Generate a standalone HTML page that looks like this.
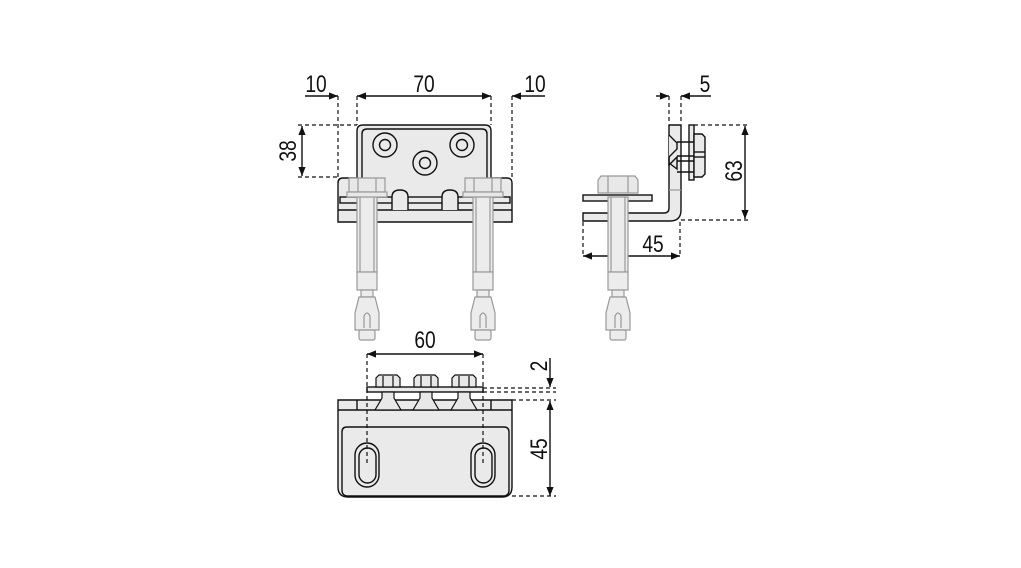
<!DOCTYPE html>
<html><head><meta charset="utf-8"><style>
html,body{margin:0;padding:0;background:#fff}
svg{display:block}
text{font-family:"Liberation Sans",sans-serif;font-size:24px;fill:#111}
</style></head><body>
<svg width="1021" height="568" viewBox="0 0 1021 568" xmlns="http://www.w3.org/2000/svg">
<defs>
<marker id="a" viewBox="0 0 10 10" refX="10" refY="5" markerWidth="9" markerHeight="9" markerUnits="userSpaceOnUse" orient="auto-start-reverse"><path d="M0,1 L10,5 L0,9z" fill="#111"/></marker>
<g id="anchor" stroke="#999" stroke-width="1.2" fill="#ececec">
 <rect x="-10" y="19" width="20" height="75"/>
 <line x1="-7" y1="19" x2="-7" y2="94"/><line x1="7" y1="19" x2="7" y2="94"/>
 <rect x="-10" y="94" width="20" height="18"/>
 <path d="M-6,112 h12 v7 h-12z"/>
 <path d="M-8,119 h16 l4,16 v17 h-24 v-17z"/>
 <path d="M-3,150 v-12 q3,-6 6,0 v12" fill="none"/>
 <rect x="-8" y="152" width="16" height="10" rx="2"/>
</g>
</defs>

<!-- ===== FRONT VIEW ===== -->
<g stroke="#111" stroke-width="1.4" fill="none">
 <line x1="305" y1="96" x2="338" y2="96" marker-end="url(#a)"/>
 <line x1="357" y1="96" x2="491" y2="96" marker-start="url(#a)" marker-end="url(#a)"/>
 <line x1="545" y1="96" x2="512" y2="96" marker-end="url(#a)"/>
 <line x1="302" y1="126" x2="302" y2="176" marker-start="url(#a)" marker-end="url(#a)"/>
</g>
<g stroke="#111" stroke-width="1.2" stroke-dasharray="4,3" fill="none">
 <line x1="338" y1="96" x2="338" y2="178"/><line x1="357" y1="96" x2="357" y2="125"/>
 <line x1="491" y1="96" x2="491" y2="125"/><line x1="512" y1="96" x2="512" y2="178"/>
 <line x1="298" y1="125" x2="357" y2="125"/><line x1="298" y1="177" x2="338" y2="177"/>
</g>
<text transform="translate(316,92) scale(0.8,1)" text-anchor="middle">10</text>
<text transform="translate(424,92) scale(0.8,1)" text-anchor="middle">70</text>
<text transform="translate(535,92) scale(0.8,1)" text-anchor="middle">10</text>
<text transform="translate(296,151) rotate(-90) scale(0.8,1)" text-anchor="middle">38</text>

<g stroke="#111" stroke-width="1.4" fill="#eaeaea">
 <path d="M338,222 V183 q0,-5 5,-5 H357 V131 q0,-6 6,-6 H485 q6,0 6,6 V178 H507 q5,0 5,5 V222 Z"/>
 <path d="M362,181 V134 q0,-5 5,-5 H482 q5,0 5,5 V181" fill="#eaeaea"/>
 <rect x="340" y="197" width="170" height="6"/>
 <line x1="338" y1="210" x2="512" y2="210"/>
 <path d="M392,210 V197 q0,-7 8,-7 q8,0 8,7 V210" fill="#eaeaea"/>
 <path d="M442,210 V197 q0,-7 8,-7 q8,0 8,7 V210" fill="#eaeaea"/>
 <circle cx="385" cy="145" r="12"/><circle cx="385" cy="145" r="5.5"/>
 <circle cx="462" cy="145" r="12"/><circle cx="462" cy="145" r="5.5"/>
 <circle cx="425" cy="163" r="12"/><circle cx="425" cy="163" r="5.5"/>
</g>
<use href="#anchor" x="367" y="178"/>
<use href="#anchor" x="483" y="178"/>
<g stroke="#999" stroke-width="1.2" fill="#e8e8e8">
 <path d="M349,178 h36 v14 h-36z"/><line x1="358" y1="178" x2="358" y2="192"/><line x1="376" y1="178" x2="376" y2="192"/>
 <rect x="347" y="192" width="40" height="5"/>
 <path d="M465,178 h36 v14 h-36z"/><line x1="474" y1="178" x2="474" y2="192"/><line x1="492" y1="178" x2="492" y2="192"/>
 <rect x="463" y="192" width="40" height="5"/>
</g>

<!-- ===== BOTTOM VIEW ===== -->
<g stroke="#111" stroke-width="1.4" fill="none">
 <line x1="367" y1="354" x2="483" y2="354" marker-start="url(#a)" marker-end="url(#a)"/>
 <line x1="550" y1="358" x2="550" y2="387" marker-end="url(#a)"/>
 <line x1="550" y1="401" x2="550" y2="496" marker-start="url(#a)" marker-end="url(#a)"/>
</g>
<text transform="translate(425,348) scale(0.8,1)" text-anchor="middle">60</text>
<text transform="translate(547,366) rotate(-90) scale(0.8,1)" text-anchor="middle">2</text>
<text transform="translate(547,449) rotate(-90) scale(0.8,1)" text-anchor="middle">45</text>
<g stroke="#111" stroke-width="1.4" fill="#eaeaea">
 <path d="M338,400 H512 V487 q0,10 -10,10 H348 q-10,0 -10,-10 Z"/>
 <line x1="338" y1="410" x2="512" y2="410"/>
 <line x1="357" y1="400" x2="357" y2="410"/><line x1="491" y1="400" x2="491" y2="410"/>
 <path d="M342,432 q0,-5 5,-5 H504 q5,0 5,5 V490 q0,6 -6,6 H348 q-6,0 -6,-6 Z"/>
 <rect x="355" y="443" width="24" height="44" rx="12"/>
 <rect x="359" y="448" width="17" height="35" rx="8.5"/>
 <rect x="471" y="443" width="24" height="44" rx="12"/>
 <rect x="475" y="448" width="17" height="35" rx="8.5"/>
 <rect x="367" y="387" width="116" height="5"/>
</g>
<g stroke="#111" stroke-width="1.2" fill="#e8e8e8">
 <path d="M376,387 V378 l3,-3 h18 l3,3 V387z"/><line x1="383" y1="376" x2="383" y2="387"/><line x1="393" y1="376" x2="393" y2="387"/>
 <path d="M414,387 V378 l3,-3 h18 l3,3 V387z"/><line x1="421" y1="376" x2="421" y2="387"/><line x1="431" y1="376" x2="431" y2="387"/>
 <path d="M452,387 V378 l3,-3 h18 l3,3 V387z"/><line x1="459" y1="376" x2="459" y2="387"/><line x1="469" y1="376" x2="469" y2="387"/>
 <path d="M382,392 v6 l-7,12 h26 l-7,-12 v-6z"/>
 <path d="M420,392 v6 l-7,12 h26 l-7,-12 v-6z"/>
 <path d="M458,392 v6 l-7,12 h26 l-7,-12 v-6z"/>
</g>
<g stroke="#111" stroke-width="1.2" stroke-dasharray="4,3" fill="none">
 <line x1="367" y1="354" x2="367" y2="465"/><line x1="483" y1="354" x2="483" y2="465"/>
 <line x1="483" y1="388" x2="556" y2="388"/><line x1="483" y1="392" x2="556" y2="392"/>
 <line x1="512" y1="400" x2="556" y2="400"/><line x1="512" y1="496" x2="556" y2="496"/>
</g>

<!-- ===== SIDE VIEW ===== -->
<g stroke="#111" stroke-width="1.4" fill="none">
 <line x1="656" y1="96" x2="669" y2="96" marker-end="url(#a)"/>
 <line x1="711" y1="96" x2="681" y2="96" marker-end="url(#a)"/>
 <line x1="745" y1="126" x2="745" y2="219" marker-start="url(#a)" marker-end="url(#a)"/>
 <line x1="583" y1="256" x2="680" y2="256" marker-start="url(#a)" marker-end="url(#a)"/>
</g>
<text transform="translate(705,92) scale(0.8,1)" text-anchor="middle">5</text>
<text transform="translate(742,171) rotate(-90) scale(0.8,1)" text-anchor="middle">63</text>
<text transform="translate(653,252) scale(0.8,1)" text-anchor="middle">45</text>
<g stroke="#111" stroke-width="1.2" stroke-dasharray="4,3" fill="none">
 <line x1="669" y1="96" x2="669" y2="124"/><line x1="681" y1="96" x2="681" y2="124"/>
 <line x1="694" y1="125" x2="748" y2="125"/><line x1="681" y1="220" x2="748" y2="220"/>
 <line x1="583" y1="222" x2="583" y2="256"/><line x1="680" y1="222" x2="680" y2="256"/>
</g>
<g stroke="#111" stroke-width="1.4" fill="#eaeaea">
 <path d="M669,125 H681 V210 q0,11 -11,11 H583 V213 H664 q5,0 5,-5 Z"/>
 <rect x="583" y="195" width="69" height="6"/>
 <rect x="689" y="125" width="5" height="55"/>
 <path d="M694,134 h8 l3,3 v37 l-3,3 h-8z"/>
 <line x1="694" y1="152" x2="705" y2="152"/><line x1="694" y1="157" x2="705" y2="157"/>
 <path d="M669,135 l8,8 v6 l-8,8 v8 l8,-8 v12 l-8,-6"/>
 <line x1="677" y1="142" x2="694" y2="142"/><line x1="677" y1="156" x2="694" y2="156"/>
 <line x1="677" y1="161" x2="694" y2="161"/><line x1="677" y1="172" x2="694" y2="172"/>
</g>
<use href="#anchor" x="618" y="178"/>
<g stroke="#999" stroke-width="1.2" fill="#e8e8e8">
 <path d="M598,180 l3,-4 h34 l3,4 v13 h-40z"/><line x1="608" y1="176" x2="608" y2="193"/><line x1="628" y1="176" x2="628" y2="193"/>
 <line x1="669" y1="190" x2="681" y2="190"/>
</g>
</svg>
</body></html>
